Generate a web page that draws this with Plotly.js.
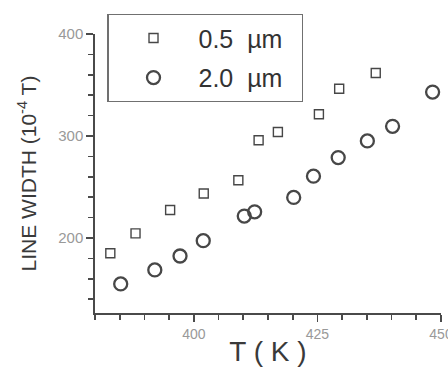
<!DOCTYPE html>
<html>
<head>
<meta charset="utf-8">
<script src="https://cdn.plot.ly/plotly-3.0.1.min.js"></script>
<style>html,body{margin:0;padding:0;background:#fff;}#chart{width:448px;height:367px;}</style>
</head>
<body>
<div id="chart"></div>
<script>
// Data
const tSquare = [383.1, 388.2, 395.2, 402.0, 409.0, 413.1, 417.0, 425.3, 429.4, 436.8];
const wSquare = [185, 204.6, 227.4, 243.7, 256.7, 295.8, 304, 321.3, 346.4, 361.7];
const tCircle = [385.2, 392.1, 397.2, 401.9, 410.2, 412.3, 420.2, 424.2, 429.2, 435.1, 440.2, 448.3];
const wCircle = [155, 168.7, 182.4, 197.4, 221.5, 225.7, 239.8, 260.6, 278.9, 295.2, 309.5, 343.1];
const seriesNames = ['0.5\u00a0\u00a0\u00b5m\u00a0\u00a0', '2.0\u00a0\u00a0\u00b5m\u00a0\u00a0'];
const xTicks = [400, 425, 450];
const yTicks = [200, 300, 400];

const ink = '#474747';
const traces = [
  {x: tSquare, y: wSquare, name: seriesNames[0], legendgroup: 'a', type: 'scatter', mode: 'markers',
   marker: {symbol: 'square-open', size: 9, color: ink, line: {width: 1.4, color: ink}}},
  {x: tCircle, y: wCircle, name: seriesNames[1], legendgroup: 'b', type: 'scatter', mode: 'markers',
   marker: {symbol: 'circle-open', size: 13, color: ink, line: {width: 2.3, color: ink}}}
];

const tickCol = '#4a4a4a';
const layout = {
  width: 448, height: 367,
  margin: {l: 95, r: 7, t: 34, b: 54},
  paper_bgcolor: '#fff', plot_bgcolor: '#fff',
  font: {family: 'Liberation Sans, Arial, sans-serif', color: '#3a3a3a'},
  showlegend: true,
  legend: {x: 0.035, y: 1.072, xanchor: 'left', yanchor: 'top',
    bordercolor: '#707070', borderwidth: 1.4, bgcolor: 'rgba(255,255,255,0)',
    traceorder: 'grouped', tracegroupgap: 4,
    font: {size: 25, color: '#333'}, itemwidth: 80},
  xaxis: {range: [380, 450], tickvals: xTicks, ticktext: xTicks.map(String),
    showgrid: false, zeroline: false, showline: true, linecolor: tickCol, linewidth: 1.7,
    ticks: 'outside', ticklen: 7, tickcolor: tickCol, tickwidth: 1.7,
    minor: {dtick: 5, ticks: 'outside', ticklen: 5, tickcolor: tickCol, tickwidth: 1.7},
    tickfont: {size: 14, color: '#999'}, ticklabeloverflow: 'allow',
    title: {text: 'T ( K )', font: {size: 28, color: '#3a3a3a'}, standoff: 9}},
  yaxis: {range: [126.5, 400], tickvals: yTicks, ticktext: yTicks.map(String),
    showgrid: false, zeroline: false, showline: true, linecolor: tickCol, linewidth: 1.7,
    ticks: 'outside', ticklen: 7, tickcolor: tickCol, tickwidth: 1.7,
    minor: {dtick: 20, ticks: 'outside', ticklen: 5, tickcolor: tickCol, tickwidth: 1.7},
    tickfont: {size: 15, color: '#999'}, ticklabeloverflow: 'allow',
    title: {text: 'LINE WIDTH (10<sup>-4</sup> T)', font: {size: 21, color: '#3a3a3a'}, standoff: 16}}
};

Plotly.newPlot('chart', traces, layout, {displayModeBar: false, staticPlot: true});
</script>
</body>
</html>
